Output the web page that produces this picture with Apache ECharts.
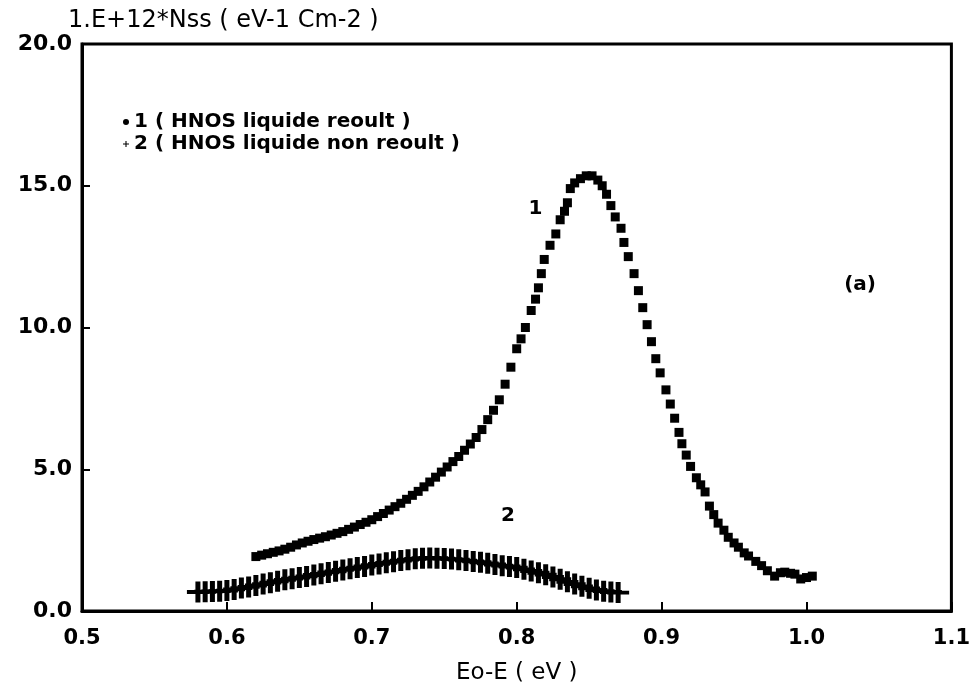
<!DOCTYPE html>
<html>
<head>
<meta charset="utf-8">
<script src="https://cdn.jsdelivr.net/npm/echarts@6/dist/echarts.min.js"></script>
<style>
html,body{margin:0;padding:0;background:#fff;}
#chart{width:973px;height:690px;}
</style>
</head>
<body>
<div id="chart"></div>
<script>
// Series 1 : HNO3 liquide recuit (squares)
const s1X = [0.620,0.624,0.628,0.632,0.636,0.640,0.644,0.648,0.652,0.656,0.660,0.664,0.668,0.672,0.676,0.680,0.684,0.688,0.692,0.696,
  0.700,0.704,0.708,0.712,0.716,0.720,0.724,0.728,0.732,0.736,0.740,0.744,0.748,0.752,0.756,0.760,0.764,0.768,0.772,0.776,
  0.780,0.784,0.788,0.792,0.796,0.800,0.803,0.806,0.810,0.813,0.815,0.817,0.819,0.823,0.827,0.830,0.833,0.835,0.837,0.840,
  0.844,0.848,0.852,0.856,0.859,0.862,0.865,0.868,0.872,0.874,0.877,0.881,0.884,0.887,0.890,0.893,0.896,0.899,0.903,0.906,
  0.909,0.912,0.914,0.917,0.920,0.924,0.927,0.930,0.933,0.936,0.939,0.943,0.946,0.950,0.953,0.957,0.960,0.965,0.969,0.973,
  0.978,0.982,0.985,0.989,0.992,0.996,1.000,1.004];
const s1Y = [1.92,1.97,2.02,2.07,2.12,2.18,2.25,2.33,2.40,2.46,2.52,2.57,2.62,2.68,2.74,2.80,2.88,2.96,3.05,3.13,
  3.22,3.33,3.44,3.56,3.68,3.80,3.94,4.08,4.22,4.38,4.55,4.72,4.90,5.08,5.27,5.45,5.67,5.89,6.12,6.40,
  6.75,7.08,7.45,8.00,8.60,9.25,9.60,10.00,10.60,11.00,11.40,11.90,12.40,12.90,13.30,13.80,14.10,14.40,14.90,15.10,
  15.25,15.35,15.35,15.20,15.00,14.70,14.30,13.90,13.50,13.00,12.50,11.90,11.30,10.70,10.10,9.50,8.90,8.40,7.80,7.30,
  6.80,6.30,5.90,5.50,5.10,4.70,4.45,4.20,3.70,3.40,3.10,2.85,2.60,2.40,2.25,2.05,1.94,1.75,1.60,1.42,
  1.23,1.35,1.37,1.33,1.30,1.13,1.18,1.23];

// Series 2 : HNO3 liquide non recuit (plus signs)
const s2X = [0.580,0.585,0.590,0.595,0.600,0.605,0.610,0.615,0.620,0.625,0.630,0.635,0.640,0.645,0.650,0.655,0.660,0.665,0.670,0.675,
  0.680,0.685,0.690,0.695,0.700,0.705,0.710,0.715,0.720,0.725,0.730,0.735,0.740,0.745,0.750,0.755,0.760,0.765,0.770,0.775,
  0.780,0.785,0.790,0.795,0.800,0.805,0.810,0.815,0.820,0.825,0.830,0.835,0.840,0.845,0.850,0.855,0.860,0.865,0.870];
const s2Y = [0.67,0.68,0.69,0.70,0.72,0.76,0.81,0.85,0.90,0.95,1.00,1.05,1.10,1.14,1.18,1.22,1.27,1.31,1.36,1.40,
  1.45,1.49,1.53,1.57,1.62,1.66,1.70,1.74,1.78,1.81,1.84,1.86,1.87,1.86,1.85,1.83,1.81,1.78,1.75,1.72,
  1.68,1.64,1.60,1.57,1.53,1.47,1.41,1.35,1.28,1.20,1.12,1.03,0.95,0.87,0.80,0.74,0.70,0.67,0.65];

const seriesNames = ['1 ( HNOS liquide reoult )', '2 ( HNOS liquide non reoult )'];
const xTicks = [0.5, 0.6, 0.7, 0.8, 0.9, 1.0, 1.1];
const yTicks = [0.0, 5.0, 10.0, 15.0, 20.0];
const xTitle = 'Eo-E ( eV )';
const yTitle = '1.E+12*Nss ( eV-1 Cm-2 )';
const annotText = ['1', '2', '(a)'];
const annotX = [0.813, 0.794, 1.037];
const annotY = [14.2, 3.35, 11.5];

// plus glyph: thick vertical stroke, horizontal stroke
const plusPath = 'path://M8.5,0H13.5V22H8.5Z M0,9H22V13H0Z';
const legendPlus = 'path://M9,0H13V22H9Z M0,9H22V13H0Z';
const FONT = 'DejaVu Sans';

const chart = echarts.init(document.getElementById('chart'), null, {renderer: 'canvas'});
chart.setOption({
  animation: false,
  backgroundColor: '#fff',
  grid: {left: 82, right: 19, top: 44, bottom: 78, show: true, borderColor: '#000', borderWidth: 3},
  legend: {
    orient: 'vertical', left: 118, top: 107, itemGap: 2,
    itemWidth: 6, itemHeight: 6,
    data: [{name: seriesNames[0], icon: 'circle'}, {name: seriesNames[1], icon: legendPlus}],
    itemStyle: {opacity: 1},
    textStyle: {fontFamily: FONT, fontWeight: 'bold', fontSize: 20, color: '#000'}
  },
  xAxis: {
    type: 'value', min: xTicks[0], max: xTicks[xTicks.length - 1], interval: 0.1,
    name: xTitle, nameLocation: 'middle', nameGap: 51,
    nameTextStyle: {fontFamily: FONT, fontSize: 23, color: '#000'},
    axisLine: {lineStyle: {color: '#000', width: 3}},
    axisTick: {inside: true, length: 9, lineStyle: {color: '#000', width: 2}},
    axisLabel: {fontFamily: FONT, fontWeight: 'bold', fontSize: 21, color: '#000', margin: 17,
      formatter: v => v.toFixed(1)},
    splitLine: {show: false}
  },
  yAxis: {
    type: 'value', min: yTicks[0], max: yTicks[yTicks.length - 1], interval: 5,
    name: yTitle, nameLocation: 'end', nameGap: 8,
    nameTextStyle: {fontFamily: FONT, fontSize: 24, color: '#000', align: 'left', padding: [0, 0, 0, -14]},
    axisLine: {lineStyle: {color: '#000', width: 3}},
    axisTick: {inside: true, length: 8, lineStyle: {color: '#000', width: 2}},
    axisLabel: {fontFamily: FONT, fontWeight: 'bold', fontSize: 22, color: '#000', margin: 10,
      formatter: v => v.toFixed(1)},
    splitLine: {show: false}
  },
  series: [
    {
      name: seriesNames[0], type: 'scatter', symbol: 'rect', symbolSize: 9,
      itemStyle: {color: '#000', opacity: 1},
      data: s1X.map((x, i) => [x, s1Y[i]])
    },
    {
      name: seriesNames[1], type: 'scatter', symbol: plusPath, symbolSize: [22, 21],
      itemStyle: {color: '#000', opacity: 1},
      data: s2X.map((x, i) => [x, s2Y[i]])
    },
    {
      name: 'labels', type: 'scatter', symbolSize: 0, silent: true,
      itemStyle: {opacity: 1},
      label: {show: true, position: 'inside', fontFamily: FONT, fontWeight: 'bold', fontSize: 20, color: '#000',
        opacity: 1, formatter: p => p.data[2]},
      data: annotText.map((t, i) => [annotX[i], annotY[i], t])
    }
  ]
});
</script>
</body>
</html>
